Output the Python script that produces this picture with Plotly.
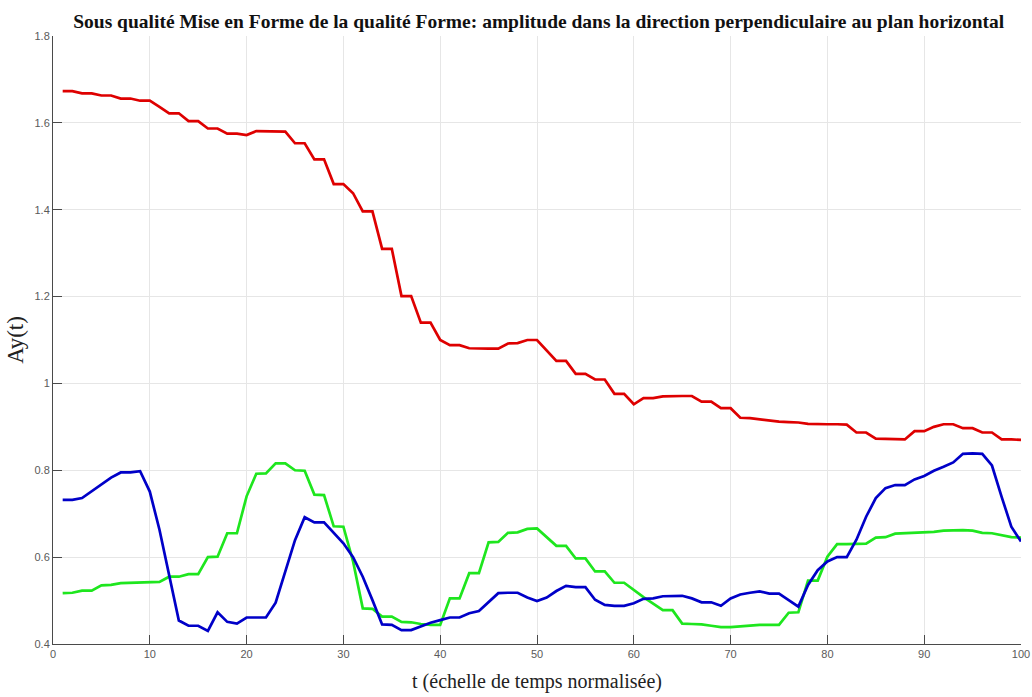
import plotly.graph_objects as go

# ── Données (t = 1..100) ────────────────────────────────────────────────────
t = list(range(1, 101))

ay_rouge = [
  1.673, 1.673, 1.668, 1.668, 1.663, 1.663, 1.656, 1.656, 1.651, 1.651,
  1.637, 1.622, 1.622, 1.604, 1.604, 1.587, 1.587, 1.575, 1.575, 1.572,
  1.581, 1.581, 1.581, 1.580, 1.553, 1.553, 1.516, 1.516, 1.459, 1.459,
  1.438, 1.396, 1.396, 1.310, 1.310, 1.201, 1.201, 1.140, 1.140, 1.100,
  1.088, 1.088, 1.081, 1.080, 1.080, 1.080, 1.092, 1.093, 1.100, 1.100,
  1.077, 1.052, 1.052, 1.022, 1.022, 1.009, 1.009, 0.976, 0.976, 0.952,
  0.966, 0.966, 0.970, 0.971, 0.971, 0.971, 0.958, 0.958, 0.943, 0.943,
  0.921, 0.920, 0.917, 0.914, 0.912, 0.911, 0.910, 0.907, 0.906, 0.906,
  0.906, 0.905, 0.887, 0.887, 0.873, 0.872, 0.872, 0.871, 0.890, 0.890,
  0.900, 0.906, 0.906, 0.897, 0.897, 0.887, 0.887, 0.871, 0.871, 0.870,
]

ay_vert = [
  0.517, 0.518, 0.523, 0.523, 0.535, 0.536, 0.540, 0.541, 0.541, 0.542,
  0.543, 0.555, 0.555, 0.561, 0.561, 0.600, 0.601, 0.655, 0.655, 0.740,
  0.792, 0.793, 0.816, 0.816, 0.800, 0.799, 0.744, 0.743, 0.671, 0.670,
  0.590, 0.482, 0.481, 0.463, 0.463, 0.451, 0.450, 0.446, 0.444, 0.444,
  0.505, 0.505, 0.563, 0.563, 0.634, 0.635, 0.656, 0.657, 0.665, 0.666,
  0.645, 0.626, 0.626, 0.597, 0.597, 0.567, 0.567, 0.541, 0.541, 0.524,
  0.508, 0.493, 0.478, 0.478, 0.447, 0.446, 0.445, 0.442, 0.439, 0.439,
  0.441, 0.443, 0.444, 0.444, 0.444, 0.472, 0.473, 0.546, 0.546, 0.601,
  0.630, 0.630, 0.630, 0.631, 0.645, 0.646, 0.654, 0.655, 0.656, 0.656,
  0.658, 0.661, 0.662, 0.662, 0.661, 0.656, 0.655, 0.650, 0.646, 0.645,
]

ay_bleu = [
  0.732, 0.732, 0.736, 0.751, 0.766, 0.783, 0.795, 0.795, 0.798, 0.751,
  0.663, 0.555, 0.454, 0.442, 0.442, 0.430, 0.473, 0.451, 0.447, 0.461,
  0.461, 0.461, 0.495, 0.570, 0.639, 0.692, 0.680, 0.680, 0.655, 0.632,
  0.600, 0.555, 0.501, 0.445, 0.444, 0.432, 0.432, 0.440, 0.449, 0.455,
  0.461, 0.461, 0.471, 0.476, 0.497, 0.517, 0.518, 0.518, 0.507, 0.499,
  0.507, 0.522, 0.534, 0.531, 0.531, 0.502, 0.490, 0.488, 0.488, 0.494,
  0.504, 0.505, 0.510, 0.511, 0.511, 0.505, 0.496, 0.496, 0.488, 0.505,
  0.514, 0.518, 0.521, 0.516, 0.516, 0.501, 0.486, 0.536, 0.570, 0.590,
  0.600, 0.600, 0.640, 0.693, 0.736, 0.759, 0.766, 0.766, 0.779, 0.787,
  0.799, 0.808, 0.818, 0.838, 0.839, 0.838, 0.811, 0.739, 0.670, 0.636,
]

x_ticks = list(range(0, 101, 10))
y_ticks = [0.4, 0.6, 0.8, 1.0, 1.2, 1.4, 1.6, 1.8]

titre = ("Sous qualité Mise en Forme de la qualité Forme: amplitude dans la "
         "direction perpendiculaire au plan horizontal")

SERIF = "Liberation Serif, Times New Roman"

# ── Figure ───────────────────────────────────────────────────────────────────
fig = go.Figure()
series = [
  (ay_rouge, "rgb(222,0,0)"),
  (ay_vert,  "rgb(30,230,30)"),
  (ay_bleu,  "rgb(0,0,200)"),
]
for valeurs, couleur in series:
  fig.add_trace(go.Scatter(
    x=t, y=valeurs, mode="lines",
    line=dict(color=couleur, width=2.7),
    showlegend=False,
  ))

axe = dict(
  showline=True, linecolor="#4a4a4a", linewidth=1,
  ticks="inside", ticklen=9, tickcolor="#4a4a4a",
  showgrid=True, gridcolor="#e6e6e6", gridwidth=1,
  zeroline=False, automargin=False,
  tickfont=dict(family="Liberation Sans, Arial", size=11, color="#5a5a5a"),
)

fig.update_layout(
  width=1032, height=697,
  paper_bgcolor="white", plot_bgcolor="white",
  margin=dict(l=53, r=11, t=36, b=53),
  title=dict(
    text=f"<b>{titre}</b>", x=0.522, xanchor="center", y=0.970, yanchor="middle",
    font=dict(family=SERIF, size=19.5, color="#111111"),
  ),
  xaxis=dict(
    **axe, range=[0, 100], tickvals=x_ticks,
    title=dict(text="t (échelle de temps normalisée)", standoff=14,
               font=dict(family=SERIF, size=20, color="#222222")),
  ),
  yaxis=dict(
    **axe, range=[0.4, 1.8], tickvals=y_ticks,
    title=dict(text="Ay(t)", standoff=4,
               font=dict(family=SERIF, size=23, color="#222222")),
  ),
)

# pas de marge de page : la figure occupe exactement la fenêtre
fig.write_html(
  "out.html",
  config={"displayModeBar": False},
  post_script="document.body.style.margin='0';document.body.style.overflow='hidden';",
)
